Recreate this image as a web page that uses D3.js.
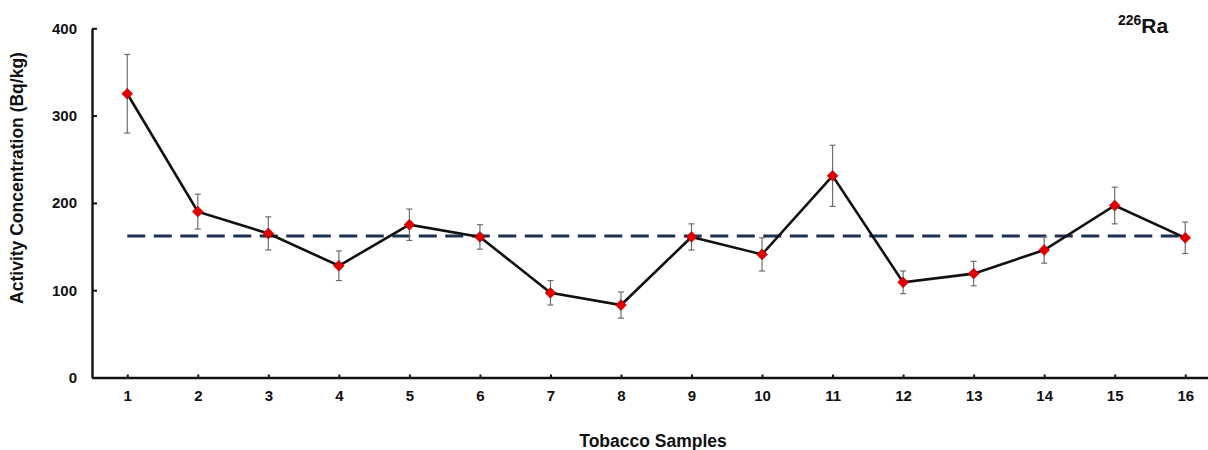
<!DOCTYPE html>
<html>
<head>
<meta charset="utf-8">
<script src="https://d3js.org/d3.v7.min.js"></script>
<style>
  body { margin: 0; background: #fff; }
  svg text { font-family: Arial, "Liberation Sans", sans-serif; font-weight: bold; fill: #111; }
</style>
</head>
<body>
<div id="chart"></div>
<script>
// sample numbers and the activity values
var samples = [1, 2, 3, 4, 5, 6, 7, 8, 9, 10, 11, 12, 13, 14, 15, 16];
var activity = [325, 190, 165, 128, 175, 161, 97, 83, 161, 141, 231, 109, 119, 146, 197, 160];
var errors = [45, 20, 19, 17, 18, 14, 14, 15, 15, 19, 35, 13, 14, 15, 21, 18];
var meanValue = 162;
var yTicks = [0, 100, 200, 300, 400];

var w = 1208;
var h = 450;

var svg = d3.select("#chart")
    .append("svg")
    .attr("width", w)
    .attr("height", h);

var x = d3.scaleLinear()
    .domain([0.5, 16.5])
    .range([92, 1220.5]);//last band runs off the right edge like the original

var y = d3.scaleLinear()
    .domain([0, 400])
    .range([377.5, 28.3]);

// y axis, ticks pointing inward
var yAxis = svg.append("g")
    .attr("transform", "translate(92,0)")
    .call(d3.axisLeft(y).tickValues(yTicks).tickSizeInner(-5).tickSizeOuter(0));
yAxis.select(".domain").attr("stroke", "#111").attr("stroke-width", 2.4);
yAxis.selectAll(".tick line").attr("stroke", "#111").attr("stroke-width", 2);
yAxis.selectAll(".tick text")
    .attr("x", -15)
    .attr("font-size", 15)
    .attr("text-anchor", "end");

// x axis, small ticks pointing up
var xAxis = svg.append("g")
    .attr("transform", "translate(0," + y(0) + ")")
    .call(d3.axisBottom(x).tickValues(samples).tickSizeInner(-3).tickSizeOuter(0).tickPadding(13));
xAxis.select(".domain").attr("stroke", "#111").attr("stroke-width", 2.4);
xAxis.selectAll(".tick line").attr("stroke", "#111").attr("stroke-width", 2);
xAxis.selectAll(".tick text").attr("font-size", 15);

// dashed mean line from first to last sample
svg.append("line")
    .attr("x1", x(samples[0]))
    .attr("x2", x(samples[samples.length - 1]))
    .attr("y1", y(meanValue))
    .attr("y2", y(meanValue))
    .attr("stroke", "#1f3050")
    .attr("stroke-width", 3)
    .attr("stroke-dasharray", "18,8.5");

// error bars
var bars = svg.selectAll("g.err")
    .data(samples)
    .enter()
    .append("g")
    .attr("class", "err")
    .attr("stroke", "#6e6e6e")
    .attr("stroke-width", 1.2);

bars.append("line")
    .attr("x1", function(d) { return x(d); })
    .attr("x2", function(d) { return x(d); })
    .attr("y1", function(d, i) { return y(activity[i] + errors[i]); })
    .attr("y2", function(d, i) { return y(activity[i] - errors[i]); });

bars.append("line")
    .attr("x1", function(d) { return x(d) - 3; })
    .attr("x2", function(d) { return x(d) + 3; })
    .attr("y1", function(d, i) { return y(activity[i] + errors[i]); })
    .attr("y2", function(d, i) { return y(activity[i] + errors[i]); });

bars.append("line")
    .attr("x1", function(d) { return x(d) - 3; })
    .attr("x2", function(d) { return x(d) + 3; })
    .attr("y1", function(d, i) { return y(activity[i] - errors[i]); })
    .attr("y2", function(d, i) { return y(activity[i] - errors[i]); });

// the black line joining the samples
var line = d3.line()
    .x(function(d) { return x(d); })
    .y(function(d, i) { return y(activity[i]); });

svg.append("path")
    .datum(samples)
    .attr("fill", "none")
    .attr("stroke", "#111")
    .attr("stroke-width", 2.6)
    .attr("d", line);

// red diamond markers
svg.selectAll("path.marker")
    .data(samples)
    .enter()
    .append("path")
    .attr("class", "marker")
    .attr("d", d3.symbol().type(d3.symbolDiamond2).size(75))
    .attr("transform", function(d, i) { return "translate(" + x(d) + "," + y(activity[i]) + ")"; })
    .attr("fill", "#e00000")
    .attr("stroke", "#b00000")
    .attr("stroke-width", 0.6);

// axis titles
svg.append("text")
    .attr("transform", "translate(23," + 178 + ") rotate(-90)")
    .attr("text-anchor", "middle")
    .attr("font-size", 17.5)
    .text("Activity Concentration (Bq/kg)");

svg.append("text")
    .attr("x", 653)
    .attr("y", 447)
    .attr("text-anchor", "middle")
    .attr("font-size", 17.5)
    .text("Tobacco Samples");

// isotope label top right
var iso = svg.append("text")
    .attr("x", 1118)
    .attr("y", 33);
iso.append("tspan")
    .attr("font-size", 14)
    .attr("dy", -8)
    .text("226");
iso.append("tspan")
    .attr("font-size", 21)
    .attr("dy", 8)
    .text("Ra");
</script>
</body>
</html>
